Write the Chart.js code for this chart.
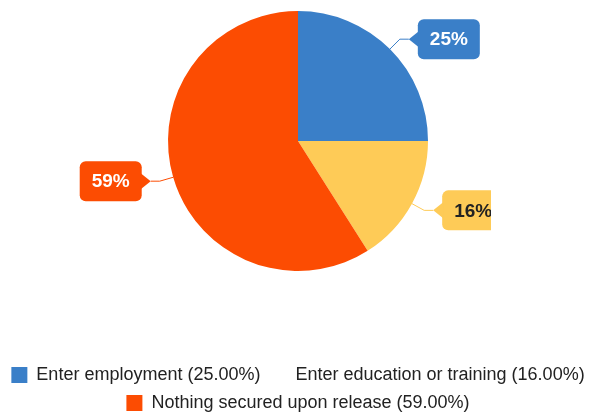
<!DOCTYPE html>
<html>
<head>
<meta charset="utf-8">
<title>Destino al salir</title>
<script src="https://cdn.jsdelivr.net/npm/chart.js@4.4.1/dist/chart.umd.min.js"></script>
<style>
  html, body { margin: 0; padding: 0; background: #fff; overflow: hidden; }
  canvas { display: block; }
</style>
</head>
<body>
<canvas id="grafica" width="596" height="422"></canvas>
<script>
// ==============================
// Datos
// ==============================
const categorias = ['Enter employment', 'Enter education or training', 'Nothing secured upon release'];
const porcentajes = [25, 16, 59];
const colores = ['#3a7fc8', '#fecb57', '#fc4c02'];
const coloresTexto = ['#ffffff', '#222222', '#ffffff'];

// ==============================
// Etiquetas tipo globo junto a cada porción
// ==============================
const globos = {
  id: 'globos',
  afterDatasetsDraw(chart) {
    const ctx = chart.ctx;
    const meta = chart.getDatasetMeta(0);
    const w = 62, h = 40, rad = 6;
    ctx.save();
    ctx.beginPath();
    ctx.rect(0, 0, 491, chart.height);
    ctx.clip();
    meta.data.forEach((arc, i) => {
      const { x, y, startAngle, endAngle, outerRadius } = arc.getProps(['x', 'y', 'startAngle', 'endAngle', 'outerRadius'], true);
      const a = (startAngle + endAngle) / 2;
      const lado = Math.cos(a) >= 0 ? 1 : -1;
      const bx = x + Math.cos(a) * outerRadius, by = y + Math.sin(a) * outerRadius;
      const ex = x + Math.cos(a) * (outerRadius + 14), ey = y + Math.sin(a) * (outerRadius + 14);
      const tipX = ex + lado * 9;
      const borde = tipX + lado * 9;
      const left = lado > 0 ? borde : borde - w;
      const top = ey - h / 2;

      // línea guía
      ctx.strokeStyle = colores[i];
      ctx.lineWidth = 1;
      ctx.beginPath();
      ctx.moveTo(bx, by);
      ctx.lineTo(ex, ey);
      ctx.lineTo(tipX, ey);
      ctx.stroke();

      // caja + pico
      ctx.fillStyle = colores[i];
      ctx.beginPath();
      ctx.roundRect(left, top, w, h, rad);
      ctx.fill();
      ctx.beginPath();
      ctx.moveTo(borde + lado * 1, ey - 8);
      ctx.lineTo(tipX, ey);
      ctx.lineTo(borde + lado * 1, ey + 8);
      ctx.closePath();
      ctx.fill();

      ctx.fillStyle = coloresTexto[i];
      ctx.font = 'bold 19px "Liberation Sans", Arial, sans-serif';
      ctx.textAlign = 'center';
      ctx.textBaseline = 'middle';
      ctx.fillText(`${Math.round(porcentajes[i])}%`, left + w / 2, ey + 1);
    });
    ctx.restore();
  }
};

const generarEtiquetas = (chart) => {
  const items = Chart.overrides.pie.plugins.legend.labels.generateLabels(chart);
  items.forEach((it, i) => {
    it.text = `${categorias[i]} (${porcentajes[i].toFixed(2)}%)`;
    it.lineWidth = 0;
    it.fontColor = '#222';
    if (i === 1) { it.fillStyle = 'rgba(0,0,0,0)'; it.strokeStyle = 'rgba(0,0,0,0)'; }
  });
  return items;
};

new Chart(document.getElementById('grafica'), {
  type: 'pie',
  data: {
    labels: categorias,
    datasets: [{ data: porcentajes, backgroundColor: colores, borderWidth: 0 }]
  },
  options: {
    responsive: false,
    animation: false,
    layout: { padding: { top: 11 } },
    plugins: {
      tooltip: { enabled: false },
      legend: {
        position: 'bottom',
        title: { display: true, text: '', font: { size: 10, lineHeight: 1 }, padding: { top: 75, bottom: 0 } },
        labels: {
          boxWidth: 16,
          boxHeight: 16,
          padding: 10,
          color: '#222',
          font: { family: '"Liberation Sans", Arial, sans-serif', size: 18 },
          generateLabels: generarEtiquetas
        }
      }
    }
  },
  plugins: [globos]
});
</script>
</body>
</html>
